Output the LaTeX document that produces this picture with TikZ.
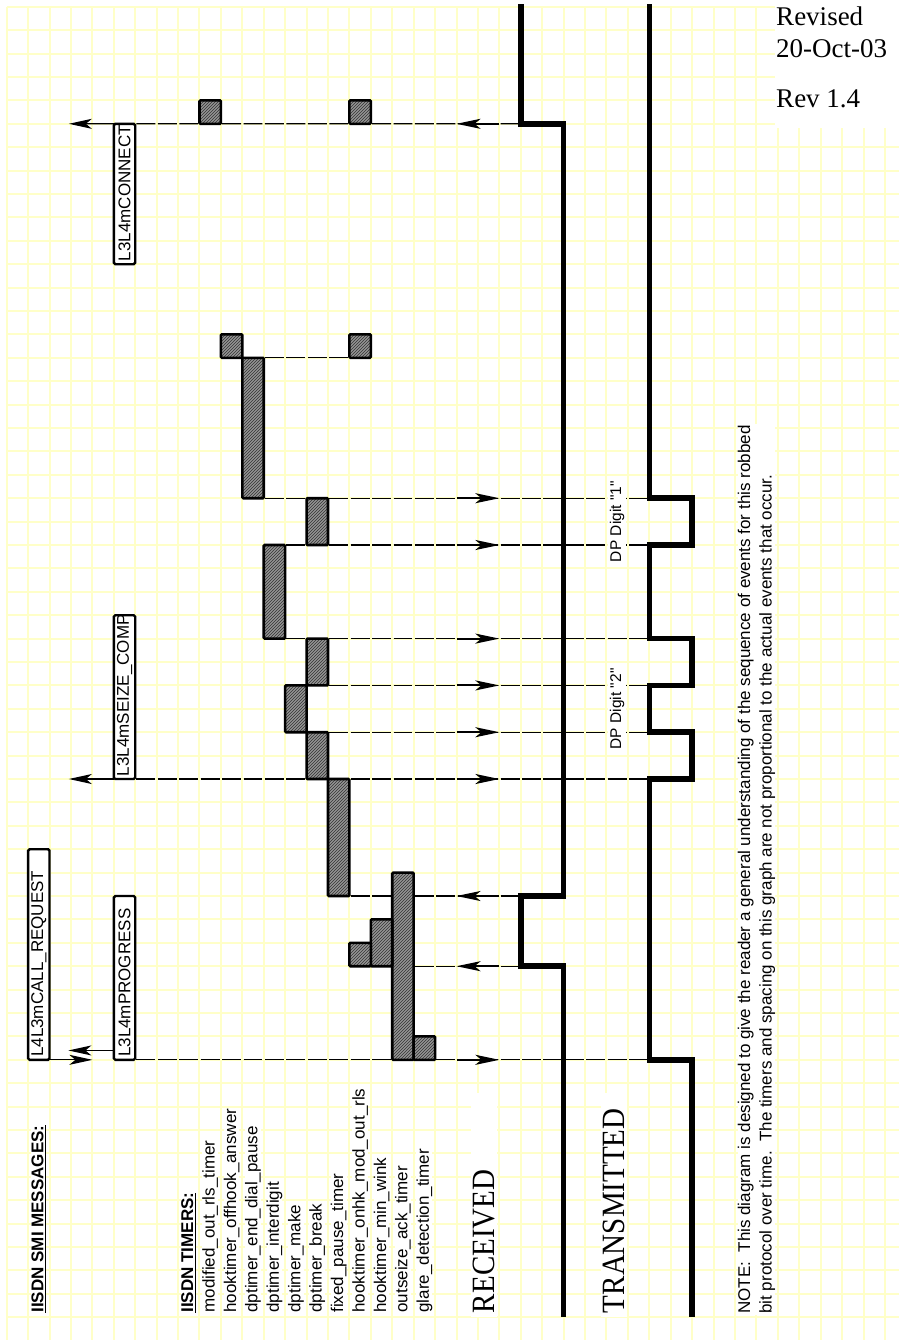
\documentclass[tikz,border=0pt]{standalone}
\usepackage{fontspec}
\setmainfont{Liberation Sans}
\newfontfamily\serifed{Liberation Serif}
\newfontfamily\plainsans{Liberation Sans}
\usepackage{graphicx}
\usepackage{tikz}
\usetikzlibrary{arrows.meta,positioning,patterns}

\definecolor{gridyellow}{RGB}{255,255,200}
\newcommand{\undl}[1]{\vtop{\hbox{#1}\kern1.2pt\hrule height1.6pt}}

\begin{document}
\begin{tikzpicture}[x=21.42pt, y=-23.4pt, >=Stealth,
    gridline/.style={gridyellow, line width=2pt},
    evline/.style={line width=1.2pt, dash pattern=on 18.92pt off 2.5pt, dash phase=20.17pt},
    evarrow/.style={line width=2pt, -{Stealth[length=24pt,width=10pt,inset=6pt]}},
    msgarrow/.style={line width=1.3pt, -{Stealth[length=23pt,width=10pt,inset=6pt]}},
    sig/.style={line width=5.5pt, line join=miter},
    bar/.style={preaction={fill=black!42}, pattern=north east lines, pattern color=black!80, draw, line width=2.6pt, rounded corners=1pt},
    msg/.style={draw, fill=white, line width=2.4pt, rounded corners=1.5pt, rotate=90, anchor=south west, outer sep=0pt, minimum height=21.42pt, inner xsep=3pt, inner ysep=0pt, align=left, font=\fontsize{17}{20}\selectfont},
    lbl/.style={rotate=90, anchor=west, fill=white, inner xsep=1pt, inner ysep=0pt, font=\fontsize{17}{20}\selectfont},
    big/.style={rotate=90, anchor=west, fill=white, inner xsep=4pt, inner ysep=2pt, text width=216pt, align=left, font=\serifed\fontsize{29}{32}\selectfont},
    digit/.style={rotate=90, fill=white, inner sep=1.5pt, font=\plainsans\fontsize{15.5}{18}\selectfont}]

    \useasboundingbox (-0.3128,-0.2906) rectangle (41.657,56.974);
    \fill[white] (-0.3128,-0.2906) rectangle (41.657,56.974);

    % graph paper
    \foreach \c in {0,...,41} \draw[gridline] (\c,0) -- (\c,56.974);
    \foreach \r in {0,...,56} \draw[gridline] (0,\r) -- (41.657,\r);

    \node [msg, minimum width=210.6pt, text width=204.6pt] (callreq) at (2,45) {L4L3mCALL\_REQUEST};
    \node [msg, minimum width=163.8pt, text width=157.8pt] (progress) at (6,45) {L3L4mPROGRESS};
    \node [msg, minimum width=163.8pt, text width=157.8pt] (seizecomp) at (6,33) {L3L4mSEIZE\_COMP};
    \node [msg, minimum width=140.4pt, text width=134.4pt] (connect) at (6,11) {L3L4mCONNECT};

    \coordinate (conntip) at (2.9,5);
    \coordinate (seiztip) at (2.9,33);
    \coordinate (progtip) at (2.88,44.6);
    \coordinate (reqtip) at (4,45);

    % events
    \draw [evline] (connect.south east) -- (24,5);
    \draw [evline] (12,15) -- (16,15);
    \foreach \a/\r in {12/21, 13/23, 13/27, 15/29, 15/31} \draw [evline] (\a,\r) -- (30,\r);
    \draw [evline] (seizecomp.south west) -- (30,33);
    \foreach \r in {38,41} \draw [evline] (16,\r) -- (24,\r);
    \draw [evline] (progress.south west) -- (30,45);

    \draw [msgarrow] (connect.north east) -- (conntip);
    \draw [msgarrow] (seizecomp.north west) -- (seiztip);
    \draw [msgarrow] (progress.north west |- progtip) -- (progtip);
    \draw [msgarrow] (callreq.south west) -- (reqtip);

    \foreach \r in {21,23,27,29,31,33,45} \draw [evarrow] (21,\r) -- (23,\r);
    \foreach \r in {5,38,41} \draw [evarrow] (23,\r) -- (21,\r);

    \node [digit] (dp1) at (28.5,22) {DP Digit "1"};
    \node [digit] (dp2) at (28.5,30) {DP Digit "2"};

    % timers
    \foreach \xa/\ya/\xb/\yb in {9/4/10/5, 16/4/17/5, 10/14/11/15, 16/14/17/15, 11/15/12/21, 14/21/15/23, 12/23/13/27, 14/27/15/29, 13/29/14/31, 14/31/15/33, 15/33/16/38, 18/37/19/45, 17/39/18/41, 16/40/17/41, 19/44/20/45}
        \draw [bar] (\xa,\ya) rectangle (\xb,\yb);

    % received and transmitted bits
    \draw [sig] (24,-0.1) -- (24,5) -- (26,5) -- (26,38) -- (24,38) -- (24,41) -- (26,41) -- (26,56);
    \draw [sig] (30,-0.1) -- (30,21) -- (32,21) -- (32,23) -- (30,23) -- (30,27) -- (32,27) -- (32,29) -- (30,29) -- (30,31) -- (32,31) -- (32,33) -- (30,33) -- (30,45) -- (32,45) -- (32,56);

    \node [lbl] (smi) at (1.5,55.85) {\bfseries\undl{IISDN SMI MESSAGES:}};
    \node [lbl] (timers) at (8.5,55.85) {\bfseries\undl{IISDN TIMERS:}};
    \foreach \t [count=\i from 9] in {modified\_out\_rls\_timer, hooktimer\_offhook\_answer, dptimer\_end\_dial\_pause, dptimer\_interdigit, dptimer\_make, dptimer\_break, fixed\_pause\_timer, hooktimer\_onhk\_mod\_out\_rls, hooktimer\_min\_wink, outseize\_ack\_timer, glare\_detection\_timer}
        \node [lbl] (tm\i) at (\i+0.5,55.85) {\t};

    \node [big] (rx) at (22.3,56) {\scalebox{1}[1.12]{RECEIVED}};
    \node [big] (tx) at (28.35,56) {\scalebox{1}[1.12]{TRANSMITTED}};

    \node [lbl, align=left, font=\fontsize{17}{21.42}\selectfont] (note) at (35,55.9) {NOTE:\ \ This diagram is designed to give the reader a general understanding of the sequence of events for this robbed\\bit protocol over time.\ \ The timers and spacing on this graph are not proportional to the actual events that occur.};

    \node [fill=white, minimum width=124pt, minimum height=128pt, inner sep=0pt, anchor=north west] (stampbg) at (35.87,-0.2906) {};
    \node [below right=6.7pt and 1pt of stampbg.north west, inner sep=0pt, align=left, font=\serifed\fontsize{27}{32}\selectfont] (stamp) {Revised\\20-Oct-03\\[18pt]Rev 1.4};
\end{tikzpicture}
\end{document}
